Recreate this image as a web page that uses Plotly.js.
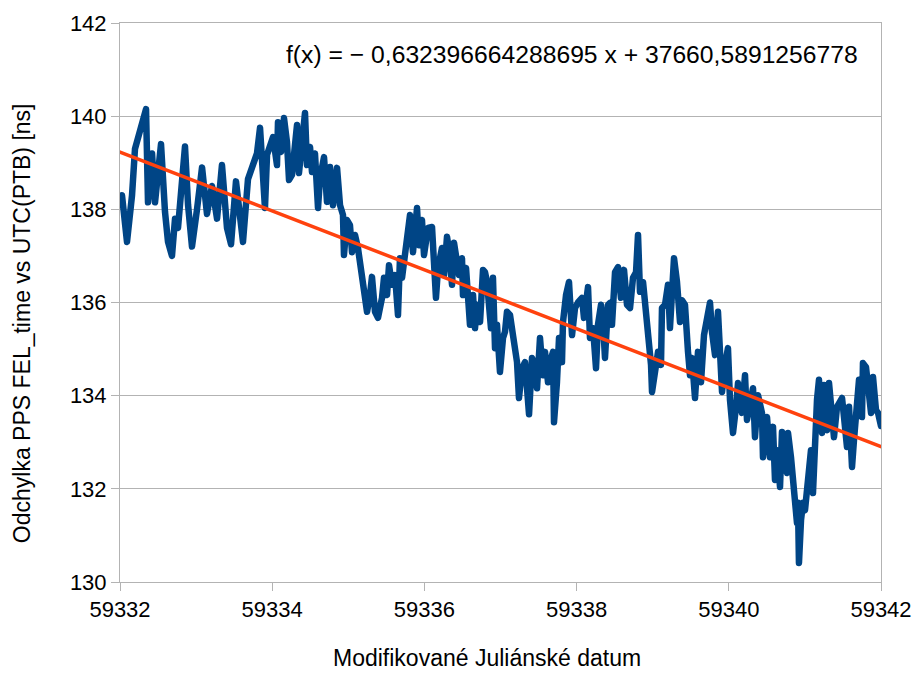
<!DOCTYPE html>
<html>
<head>
<meta charset="utf-8">
<script src="https://cdn.plot.ly/plotly-3.0.1.min.js"></script>
<style>
  html, body { margin: 0; padding: 0; background: #fff; }
  #chart { width: 918px; height: 674px; }
  .scatterlayer .js-line { stroke-linejoin: round; stroke-linecap: round; }
</style>
</head>
<body>
<div id="chart"></div>
<script>
// Measured offset of the FEL_time PPS against UTC(PTB), ns, by MJD
const mjd = [
  59332.000, 59332.026, 59332.092, 59332.158, 59332.197, 59332.263, 59332.342, 59332.368, 59332.421, 59332.460,
  59332.539, 59332.591, 59332.631, 59332.683, 59332.723, 59332.762, 59332.815, 59332.854, 59332.894, 59332.946,
  59333.012, 59333.078, 59333.143, 59333.209, 59333.275, 59333.340, 59333.406, 59333.459, 59333.524, 59333.577,
  59333.616, 59333.682, 59333.748, 59333.800, 59333.840, 59333.879, 59333.905, 59333.932, 59333.971, 59334.011,
  59334.063, 59334.076, 59334.116, 59334.155, 59334.194, 59334.221, 59334.260, 59334.286, 59334.326, 59334.352,
  59334.392, 59334.431, 59334.457, 59334.497, 59334.523, 59334.562, 59334.602, 59334.628, 59334.681, 59334.720,
  59334.760, 59334.799, 59334.852, 59334.891, 59334.930, 59334.943, 59334.983, 59335.022, 59335.049, 59335.088,
  59335.127, 59335.154, 59335.180, 59335.206, 59335.246, 59335.285, 59335.311, 59335.351, 59335.390, 59335.443,
  59335.469, 59335.509, 59335.535, 59335.574, 59335.614, 59335.653, 59335.679, 59335.706, 59335.745, 59335.784,
  59335.811, 59335.850, 59335.903, 59335.929, 59335.968, 59335.995, 59336.047, 59336.100, 59336.126, 59336.152,
  59336.179, 59336.231, 59336.258, 59336.297, 59336.323, 59336.363, 59336.389, 59336.428, 59336.455, 59336.494,
  59336.507, 59336.547, 59336.573, 59336.599, 59336.639, 59336.665, 59336.691, 59336.731, 59336.770, 59336.796,
  59336.823, 59336.849, 59336.875, 59336.901, 59336.928, 59336.954, 59336.993, 59337.033, 59337.059, 59337.085,
  59337.125, 59337.164, 59337.191, 59337.217, 59337.243, 59337.283, 59337.322, 59337.348, 59337.375, 59337.414,
  59337.453, 59337.480, 59337.519, 59337.558, 59337.585, 59337.624, 59337.650, 59337.690, 59337.703, 59337.742,
  59337.769, 59337.808, 59337.821, 59337.861, 59337.900, 59337.940, 59337.979, 59338.018, 59338.071, 59338.097,
  59338.150, 59338.176, 59338.216, 59338.255, 59338.281, 59338.321, 59338.347, 59338.373, 59338.413, 59338.439,
  59338.465, 59338.505, 59338.544, 59338.583, 59338.623, 59338.662, 59338.702, 59338.741, 59338.781, 59338.807,
  59338.833, 59338.873, 59338.912, 59338.951, 59338.978, 59338.991, 59339.030, 59339.070, 59339.109, 59339.122,
  59339.162, 59339.201, 59339.227, 59339.254, 59339.280, 59339.319, 59339.359, 59339.385, 59339.424, 59339.464,
  59339.490, 59339.516, 59339.556, 59339.595, 59339.635, 59339.674, 59339.713, 59339.753, 59339.779, 59339.819,
  59339.858, 59339.884, 59339.911, 59339.950, 59339.989, 59340.016, 59340.055, 59340.095, 59340.121, 59340.173,
  59340.213, 59340.239, 59340.279, 59340.318, 59340.344, 59340.384, 59340.436, 59340.449, 59340.502, 59340.541,
  59340.581, 59340.607, 59340.633, 59340.673, 59340.699, 59340.725, 59340.765, 59340.778, 59340.817, 59340.844,
  59340.870, 59340.896, 59340.909, 59340.922, 59340.949, 59340.975, 59341.001, 59341.028, 59341.054, 59341.080,
  59341.106, 59341.133, 59341.159, 59341.185, 59341.225, 59341.251, 59341.290, 59341.317, 59341.356, 59341.382,
  59341.422, 59341.448, 59341.488, 59341.514, 59341.553, 59341.580, 59341.619, 59341.645, 59341.685, 59341.711,
  59341.750, 59341.763, 59341.803, 59341.829, 59341.869, 59341.895, 59341.934, 59341.961, 59342.000
];
const offsetNs = [
  138.20, 138.30, 137.30, 138.30, 139.30, 139.75, 140.15, 138.15, 139.20, 138.15,
  139.40, 137.95, 137.30, 137.00, 137.80, 137.60, 138.80, 139.35, 138.10, 137.20,
  138.00, 138.90, 137.90, 138.50, 137.80, 138.95, 137.60, 137.25, 138.60, 137.65,
  137.30, 138.65, 139.00, 139.20, 139.75, 138.60, 138.03, 139.17, 139.38, 139.55,
  138.95, 139.87, 139.23, 139.96, 139.45, 138.63, 138.74, 139.32, 139.81, 138.78,
  139.45, 140.07, 138.95, 139.34, 138.80, 139.20, 138.03, 138.67, 139.12, 138.16,
  138.91, 138.09, 138.89, 138.09, 137.88, 137.02, 137.77, 137.66, 137.08, 137.45,
  137.17, 136.80, 136.44, 136.10, 135.80, 136.16, 136.55, 135.80, 135.67, 136.10,
  136.53, 136.16, 136.80, 136.38, 136.59, 135.73, 136.95, 136.53, 137.02, 137.38,
  137.88, 137.08, 138.03, 137.23, 137.77, 137.02, 137.60, 137.62, 136.87, 136.10,
  136.74, 137.17, 136.59, 137.41, 137.13, 136.38, 137.28, 136.87, 136.59, 136.95,
  136.16, 136.74, 136.23, 135.52, 136.16, 135.45, 135.95, 135.58, 136.70, 136.65,
  136.44, 136.00, 135.45, 136.53, 135.02, 135.52, 134.51, 135.24, 135.37, 135.80,
  135.73, 135.30, 135.02, 134.72, 133.95, 134.59, 134.72, 134.29, 133.60, 134.81,
  134.66, 134.16, 135.24, 134.44, 134.94, 134.29, 134.72, 134.94, 133.43, 134.29,
  135.24, 134.72, 135.58, 136.16, 136.44, 135.30, 135.88, 136.00, 136.10, 135.67,
  136.33, 135.24, 135.45, 134.59, 135.52, 135.95, 135.58, 134.81, 135.95, 135.99,
  135.52, 136.65, 136.76, 136.10, 136.70, 135.95, 135.88, 136.53, 136.65, 137.45,
  136.23, 136.44, 135.80, 135.30, 134.66, 134.08, 134.59, 134.94, 134.66, 135.88,
  135.95, 136.38, 135.45, 136.10, 136.95, 136.44, 135.58, 136.05, 135.95, 134.94,
  134.44, 134.81, 133.95, 134.94, 134.29, 135.30, 135.67, 136.00, 135.37, 134.87,
  135.80, 135.02, 134.08, 134.66, 135.02, 133.90, 133.20, 133.76, 134.27, 133.63,
  134.44, 133.48, 133.95, 134.16, 133.11, 134.01, 133.63, 132.68, 133.54, 132.68,
  133.33, 132.19, 132.83, 132.04, 133.22, 132.62, 132.34, 133.20, 132.68, 132.04,
  131.54, 131.27, 131.70, 130.41, 131.33, 131.70, 131.54, 132.12, 132.68, 132.83,
  131.91, 133.33, 133.91, 134.34, 133.20, 134.23, 133.26, 134.27, 133.41, 133.11,
  133.76, 133.84, 133.95, 133.54, 132.90, 133.76, 132.47, 133.05, 133.76, 134.34,
  133.54, 134.70, 134.61, 134.06, 133.63, 134.40, 133.69, 133.63, 133.35
];

// Linear regression of the series
const slope = -0.632396664288695;
const intercept = 37660.5891256778;
const xRange = [59332, 59342];
const yRange = [130, 142];
const yTicks = [130, 132, 134, 136, 138, 140, 142];
const xTicks = [59332, 59334, 59336, 59338, 59340, 59342];

const xTitle = 'Modifikované Juliánské datum';
const yTitle = 'Odchylka PPS FEL_time vs UTC(PTB) [ns]';

const trendX = xRange.slice();
const trendY = trendX.map(x => slope * x + intercept);

const eqText = 'f(x) = \u2212 ' + String(Math.abs(slope)).replace('.', ',') +
               ' x + ' + String(intercept).replace('.', ',');

const font = 'Liberation Sans, Arial, sans-serif';

const data = [
  {
    x: mjd, y: offsetNs, type: 'scatter', mode: 'lines',
    line: { color: '#004586', width: 6.5 },
    hoverinfo: 'x+y', showlegend: false
  },
  {
    x: trendX, y: trendY, type: 'scatter', mode: 'lines',
    line: { color: '#ff420e', width: 3.5 },
    hoverinfo: 'skip', showlegend: false
  }
];

const axisCommon = {
  zeroline: false,
  showline: true, linecolor: '#b3b3b3', linewidth: 1, mirror: true,
  ticks: 'outside', ticklen: 8, tickcolor: '#b3b3b3', tickwidth: 1,
  tickfont: { family: font, size: 22, color: '#000' }
};

const layout = {
  width: 918, height: 674,
  margin: { l: 120, r: 37, t: 23, b: 92 },
  paper_bgcolor: '#ffffff', plot_bgcolor: '#ffffff',
  font: { family: font, color: '#000000', size: 22 },
  showlegend: false,
  xaxis: Object.assign({
    range: xRange, tickvals: xTicks, ticktext: xTicks.map(String),
    showgrid: false
  }, axisCommon),
  yaxis: Object.assign({
    range: yRange, tickvals: yTicks, ticktext: yTicks.map(String),
    showgrid: true, gridcolor: '#b3b3b3', gridwidth: 1
  }, axisCommon),
  annotations: [
    {
      text: eqText, xref: 'paper', yref: 'paper',
      x: 0.972, y: 0.943, xanchor: 'right', yanchor: 'middle',
      showarrow: false, font: { family: font, size: 24.7, color: '#000' }
    },
    {
      // x-axis title, sitting a little left of the plot centre
      text: xTitle, xref: 'paper', yref: 'paper',
      x: 0.482, y: -0.136, xanchor: 'center', yanchor: 'middle',
      showarrow: false, borderpad: 0, font: { family: font, size: 23, color: '#000' }
    },
    {
      // y-axis title, rotated
      text: yTitle, xref: 'paper', yref: 'paper', textangle: -90,
      x: -0.1288, y: 0.463, xanchor: 'center', yanchor: 'middle',
      showarrow: false, borderpad: 0, font: { family: font, size: 23, color: '#000' }
    }
  ]
};

Plotly.newPlot('chart', data, layout, { staticPlot: true, displayModeBar: false });
</script>
</body>
</html>
